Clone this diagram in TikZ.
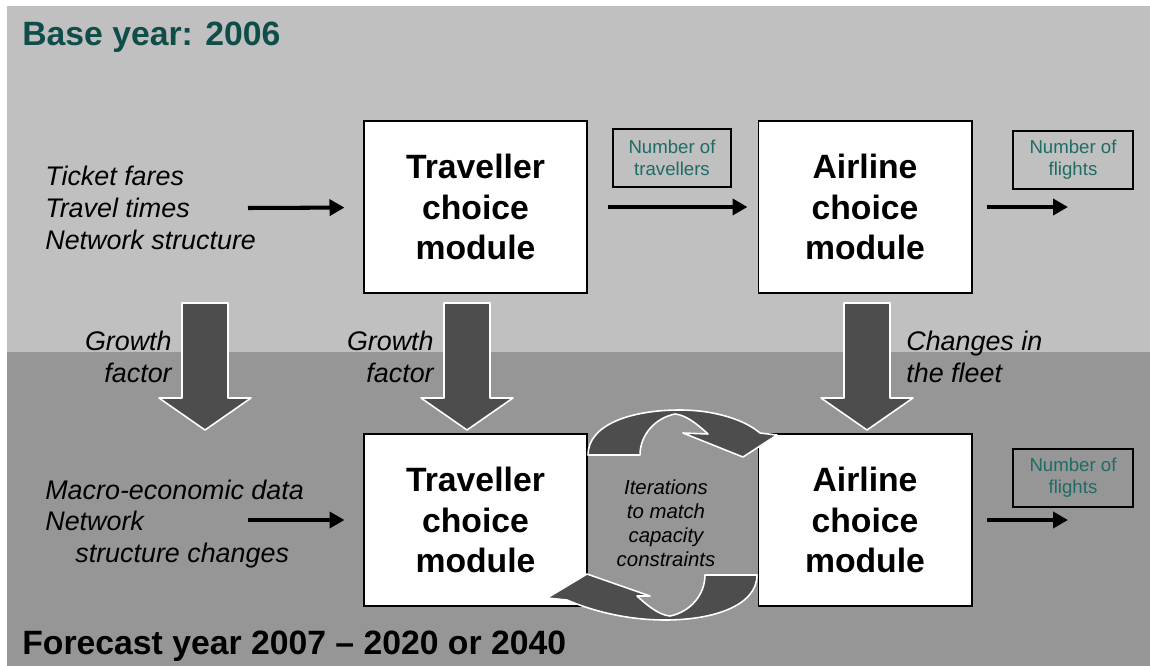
\documentclass[tikz,border=0pt]{standalone}
\usepackage{fontspec}
\setmainfont{Liberation Sans}
\usetikzlibrary{arrows.meta}
\definecolor{topgray}{HTML}{C0C0C0}
\definecolor{lowgray}{HTML}{969696}
\definecolor{arrowgray}{HTML}{4D4D4D}
\definecolor{titleteal}{HTML}{0E4D48}
\definecolor{boxteal}{HTML}{1F6B66}

\begin{document}
\begin{tikzpicture}[x=0.02cm, y=-0.02cm,
  module/.style = {draw=black, fill=white, line width=0.6pt, minimum height=3.44cm, align=center, font=\fontsize{19.2}{23.2}\selectfont\bfseries},
  numbox/.style = {draw=black, line width=0.9pt, align=center, text=boxteal, minimum height=1.16cm, font=\fontsize{10.6}{12.5}\selectfont},
  note/.style = {align=left, inner sep=0pt, font=\fontsize{15.3}{18.1}\selectfont\itshape},
  flow/.style = {line width=2.3pt, -{Triangle[length=0.3cm, width=0.32cm]}},
  bigarrow/.style = {fill=arrowgray, draw=white, line width=0.9pt, line join=round},
  title/.style = {anchor=base west, inner sep=0pt, font=\fontsize{19.2}{23}\selectfont\bfseries}]

 % background bands
 \useasboundingbox (0,0) rectangle (1150,666);
 \fill[topgray] (7,6) rectangle (1150,352);
 \fill[lowgray] (7,352) rectangle (1150,666);

 \node[title, text=titleteal] (base) at (22,45) {Base year: 2006};
 \node[title] (fore) at (22,654) {Forecast year 2007 -- 2020 or 2040};

 % growth arrows between the years
 \foreach \cx in {205,467,867}
   \draw[bigarrow] (\cx-23,303) -- (\cx+23,303) -- (\cx+23,398) -- (\cx+46,398)
     -- (\cx,430) -- (\cx-46,398) -- (\cx-23,398) -- cycle;

 \node[module, minimum width=4.46cm] (t1) at (475.5,207) {Traveller\\choice\\module};
 \node[module, minimum width=4.28cm] (a1) at (865,207) {Airline\\choice\\module};
 \node[module, minimum width=4.46cm] (t2) at (475.5,520) {Traveller\\choice\\module};
 \node[module, minimum width=4.28cm] (a2) at (865,520) {Airline\\choice\\module};

 \node[numbox, minimum width=2.36cm] (nt) at (672,158) {Number of\\travellers};
 \node[numbox, minimum width=2.4cm] (nf1) at (1073,160) {Number of\\flights};
 \node[numbox, minimum width=2.4cm] (nf2) at (1073,478) {Number of\\flights};

 \node[note, anchor=west] (in1) at (45,208) {Ticket fares\\Travel times\\Network structure};
 \node[note, anchor=west] (in2) at (45,524) {Macro-economic data\\Network\\\hspace*{0.6cm}structure changes};

 \node[note, align=right, anchor=east] (g1) at (172,357) {Growth\\factor};
 \node[note, align=right, anchor=east] (g2) at (434,357) {Growth\\factor};
 \node[note, anchor=west] (g3) at (906,357) {Changes in\\the fleet};

 \coordinate (s1) at (248,208);
 \coordinate (s2) at (248,520);
 \coordinate (e1) at (1068,207);
 \coordinate (e2) at (1068,520);

 \draw[flow, shorten >=0.38cm] (s1) -- (t1);
 \draw[flow, shorten <=0.4cm, shorten >=0.2cm] (t1) -- (a1);
 \draw[flow, shorten <=0.28cm] (a1) -- (e1);
 \draw[flow, shorten >=0.38cm] (s2) -- (t2);
 \draw[flow, shorten <=0.28cm] (a2) -- (e2);

 % iteration loop
 \draw[bigarrow] (588,455) .. controls (588,425) and (630,410) .. (680,410)
   .. controls (715,410) and (745,420) .. (760,433) -- (777,435) -- (743,457)
   -- (683,433) -- (708,434) .. controls (695,422) and (685,415) .. (675,414)
   .. controls (655,418) and (640,435) .. (640,455) -- cycle;
 \draw[bigarrow] (757,575) .. controls (757,605) and (715,620) .. (665,620)
   .. controls (625,620) and (590,610) .. (567,600) -- (547,598) -- (587,574)
   -- (650,596) -- (637,596) .. controls (650,608) and (660,615) .. (670,616)
   .. controls (690,612) and (705,595) .. (705,575) -- cycle;
 \node[align=center, font=\fontsize{11.6}{13.6}\selectfont\itshape] (iter) at (666,523) {Iterations\\to match\\capacity\\constraints};
\end{tikzpicture}
\end{document}
